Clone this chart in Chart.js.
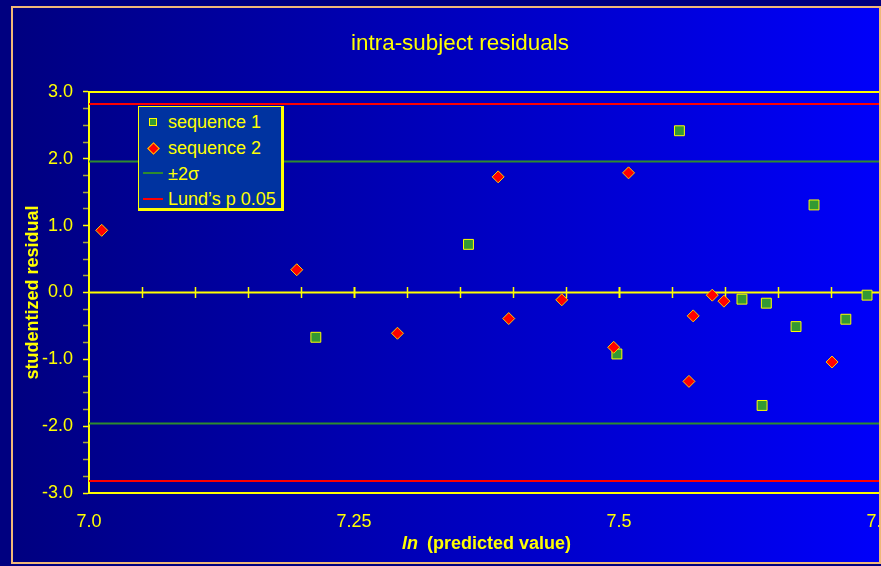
<!DOCTYPE html>
<html><head><meta charset="utf-8">
<script src="https://cdn.jsdelivr.net/npm/chart.js@4/dist/chart.umd.min.js"></script>
<style>
html,body{margin:0;padding:0;background:#000080;overflow:hidden;width:881px;height:566px;}
#wrap{position:relative;width:920px;height:566px;}
#legend{position:absolute;left:138px;top:106px;width:146px;height:105px;box-sizing:border-box;background:#0033A0;
  border-left:1px solid #FFFF00;border-top:1px solid #FFFF00;border-right:3px solid #FFFF00;border-bottom:3px solid #FFFF00;
  font:18px "Liberation Sans",Arial,sans-serif;color:#FFFF00;}
.row{position:absolute;left:0;height:20px;line-height:20px;width:140px;}
.row span.t{position:absolute;left:29px;top:0;white-space:nowrap;}
.mk{position:absolute;}
</style></head>
<body><div id="wrap"><canvas id="c" width="920" height="566"></canvas><div id="legend"></div></div>
<script>
const seriesNames = ['sequence 1', 'sequence 2', '\u00B12\u03C3', 'Lund\u2019s p 0.05'];
const seq1X = [7.214, 7.358, 7.498, 7.557, 7.616, 7.635, 7.639, 7.667, 7.684, 7.714, 7.734];
const seq1Y = [-0.67, 0.72, -0.92, 2.42, -0.10, -1.69, -0.16, -0.51, 1.31, -0.40, -0.04];
const seq2X = [7.012, 7.196, 7.291, 7.386, 7.396, 7.446, 7.495, 7.509, 7.566, 7.570, 7.588, 7.599, 7.701];
const seq2Y = [0.93, 0.34, -0.61, 1.73, -0.39, -0.11, -0.82, 1.79, -1.33, -0.35, -0.04, -0.13, -1.04];
const sigmaLimit = 1.96;
const lundLimit = 2.82;
const xRange = [7.0, 7.75];
const yRange = [-3, 3];
const xTickLabels = ['7.0', '7.25', '7.5', '7.75'];
const yTickLabels = ['-3.0', '-2.0', '-1.0', '0.0', '1.0', '2.0', '3.0'];
const xMinorStep = 0.05;

const F = '"Liberation Sans", Arial, sans-serif';
const YEL = '#FFFF00';
const toPts = (xs, ys) => xs.map((x, i) => ({x: x, y: ys[i]}));
const band = v => [{x: xRange[0], y: v}, {x: xRange[1], y: v}, {x: xRange[1], y: null}, {x: xRange[0], y: -v}, {x: xRange[1], y: -v}];

const colors = {s1: '#339933', s2: '#FF0000', sig: '#2E8B2E', lund: '#FF0000'};

const bgPlugin = {
  id: 'bg',
  beforeDraw(chart) {
    const ctx = chart.ctx;
    ctx.save();
    ctx.fillStyle = '#000080';
    ctx.fillRect(0, 0, chart.width, chart.height);
    const g = ctx.createLinearGradient(12, 0, 880, 0);
    g.addColorStop(0, '#000080');
    g.addColorStop(1, '#0000FA');
    ctx.fillStyle = g;
    ctx.fillRect(12, 7, 868, 556);
    ctx.restore();
  },
  afterDraw(chart) {
    const ctx = chart.ctx;
    ctx.save();
    ctx.strokeStyle = '#F0B878';
    ctx.lineWidth = 2;
    ctx.strokeRect(12, 7, 868, 556);
    ctx.restore();
  }
};

const axisPlugin = {
  id: 'axisDeco',
  beforeDatasetsDraw(chart) {
    const ctx = chart.ctx, a = chart.chartArea;
    const xs = chart.scales.x, ys = chart.scales.y;
    ctx.save();
    ctx.strokeStyle = YEL;
    ctx.lineWidth = 2;
    ctx.beginPath();
    ctx.moveTo(a.left, a.top); ctx.lineTo(a.right, a.top);
    ctx.stroke();
    const y0 = Math.round(ys.getPixelForValue(0)) + 0.5;
    ctx.beginPath();
    ctx.moveTo(a.left, y0); ctx.lineTo(a.right, y0);
    ctx.stroke();
    const n = Math.round((xRange[1] - xRange[0]) / xMinorStep);
    for (let i = 1; i <= n; i++) {
      const v = xRange[0] + i * xMinorStep;
      const px = Math.round(xs.getPixelForValue(v)) + 0.5;
      ctx.lineWidth = (i % 5 === 0) ? 2 : 1.5;
      ctx.beginPath();
      ctx.moveTo(px, y0 - 5.5); ctx.lineTo(px, y0 + 5.5);
      ctx.stroke();
    }
    ctx.restore();
  },
  afterDraw(chart) {
    const ctx = chart.ctx, a = chart.chartArea;
    ctx.save();
    ctx.fillStyle = YEL;
    ctx.textBaseline = 'middle';
    const f1 = 'italic bold 18px ' + F, f2 = 'bold 18px ' + F;
    const t1 = 'ln', t2 = '(predicted value)';
    ctx.font = f1; const w1 = ctx.measureText(t1).width;
    ctx.font = f2; const w2 = ctx.measureText(t2).width;
    const gap = 9;
    const cx = (a.left + a.right) / 2;
    let x = cx - (w1 + gap + w2) / 2;
    const y = 544;
    ctx.font = f1; ctx.fillText(t1, x, y);
    ctx.font = f2; ctx.fillText(t2, x + w1 + gap, y);
    ctx.restore();
  }
};

const chart = new Chart(document.getElementById('c'), {
  type: 'scatter',
  data: {
    datasets: [
      {label: seriesNames[0], data: toPts(seq1X, seq1Y), pointStyle: 'rect', pointRadius: 7, pointHoverRadius: 7,
       backgroundColor: colors.s1, borderColor: YEL, borderWidth: 1, order: 1},
      {label: seriesNames[1], data: toPts(seq2X, seq2Y), pointStyle: 'rectRot', pointRadius: 6, pointHoverRadius: 6,
       backgroundColor: colors.s2, borderColor: '#FFCC00', borderWidth: 1, order: 0},
      {label: seriesNames[2], data: band(sigmaLimit), showLine: true, spanGaps: false, pointRadius: 0,
       borderColor: colors.sig, borderWidth: 2, order: 3},
      {label: seriesNames[3], data: band(lundLimit), showLine: true, spanGaps: false, pointRadius: 0,
       borderColor: colors.lund, borderWidth: 2, order: 2}
    ]
  },
  options: {
    responsive: false, animation: false, events: [],
    layout: {padding: {left: 36, right: 36, top: 0, bottom: 0}},
    plugins: {
      legend: {display: false}, tooltip: {enabled: false},
      title: {display: true, text: 'intra-subject residuals', color: YEL,
              font: {family: F, size: 22.4, weight: 'normal'}, padding: {top: 30, bottom: 35.1}}
    },
    scales: {
      x: {type: 'linear', min: xRange[0], max: xRange[1], position: 'bottom',
          ticks: {stepSize: 0.25, autoSkip: false, maxRotation: 0, color: YEL, font: {family: F, size: 18}, padding: 18,
                  callback: (v, i) => xTickLabels[i]},
          grid: {drawOnChartArea: false, drawTicks: false},
          border: {color: YEL, width: 2},
          afterFit: s => { s.height = 73; }},
      y: {min: yRange[0], max: yRange[1],
          ticks: {stepSize: 0.25, autoSkip: false, color: YEL, font: {family: F, size: 18}, padding: 10,
                  callback: v => Math.abs(v - Math.round(v)) < 1e-9 ? yTickLabels[Math.round(v) - yRange[0]] : ''},
          grid: {drawOnChartArea: false, drawTicks: true, tickLength: 6,
                 tickColor: c => (Math.abs(c.tick.value - Math.round(c.tick.value)) < 1e-9) ? YEL : '#A8A830',
                 tickWidth: 1.5},
          border: {color: YEL, width: 2},
          title: {display: true, text: 'studentized residual', color: YEL,
                  font: {family: F, size: 18, weight: 'bold'}, padding: {top: -13.8, bottom: 0}},
          afterFit: s => { s.width = 53; }}
    }
  },
  plugins: [bgPlugin, axisPlugin]
});

// HTML legend built from the datasets
(function () {
  const lg = document.getElementById('legend');
  const centers = [16, 42, 67.5, 93];
  chart.data.datasets.forEach((ds, i) => {
    const row = document.createElement('div');
    row.className = 'row';
    row.style.top = (centers[i] - 11) + 'px';
    const mk = document.createElement('div');
    mk.className = 'mk';
    if (i === 0) {
      Object.assign(mk.style, {left: '10px', top: '6px', width: '6px', height: '6px', background: ds.backgroundColor, border: '1px solid ' + YEL});
    } else if (i === 1) {
      Object.assign(mk.style, {left: '9.5px', top: '5.5px', width: '7px', height: '7px', background: ds.backgroundColor, border: '1px solid #FFCC00', transform: 'rotate(45deg)'});
    } else {
      Object.assign(mk.style, {left: '4px', top: (i === 2 ? 8 : 9) + 'px', width: '20px', height: '2px', background: ds.borderColor});
    }
    row.appendChild(mk);
    const t = document.createElement('span');
    t.className = 't';
    t.textContent = ds.label;
    row.appendChild(t);
    lg.appendChild(row);
  });
})();
</script>
</body></html>
